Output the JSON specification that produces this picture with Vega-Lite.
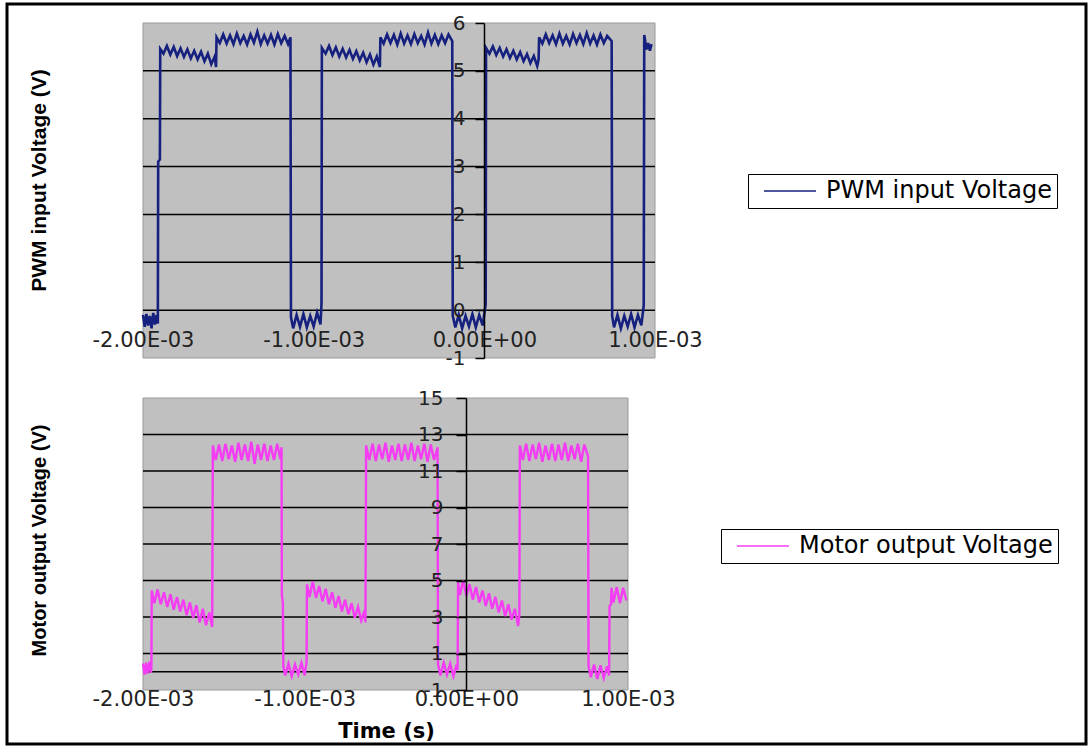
{
"$schema": "https://vega.github.io/schema/vega-lite/v6.json",
"width": 1088,
"height": 746,
"autosize": {"type": "fit", "contains": "padding"},
"padding": {"left": 7, "top": 4, "right": 2, "bottom": 2},
"background": "white",
"config": {"view": {"stroke": "black", "strokeWidth": 3}, "font": "DejaVu Sans"},
"datasets": {
"pwm": [
{"t":-0.00200,"v":-0.10},{"t":-0.00199,"v":-0.35},{"t":-0.00198,"v":-0.08},{"t":-0.00197,"v":-0.32},{"t":-0.00196,"v":-0.12},{"t":-0.00195,"v":-0.38},{"t":-0.00194,"v":-0.06},{"t":-0.00193,"v":-0.30},{"t":-0.00192,"v":-0.10},{"t":-0.001913,"v":-0.28},
{"t":-0.001911,"v":3.10},{"t":-0.001901,"v":3.15},{"t":-0.001899,"v":5.46},
{"t":-0.00188,"v":5.36},{"t":-0.00186,"v":5.52},{"t":-0.00184,"v":5.34},{"t":-0.00182,"v":5.50},{"t":-0.00180,"v":5.31},{"t":-0.00178,"v":5.47},{"t":-0.00176,"v":5.29},{"t":-0.00174,"v":5.45},{"t":-0.00172,"v":5.26},{"t":-0.00170,"v":5.42},{"t":-0.00168,"v":5.24},{"t":-0.00166,"v":5.40},{"t":-0.00164,"v":5.20},{"t":-0.00162,"v":5.36},{"t":-0.00160,"v":5.14},{"t":-0.00158,"v":5.30},{"t":-0.001572,"v":5.08},
{"t":-0.001569,"v":5.70},{"t":-0.00155,"v":5.58},{"t":-0.00153,"v":5.76},{"t":-0.00151,"v":5.57},{"t":-0.00149,"v":5.74},{"t":-0.00147,"v":5.56},{"t":-0.00145,"v":5.78},{"t":-0.00143,"v":5.58},{"t":-0.00141,"v":5.73},{"t":-0.00139,"v":5.55},{"t":-0.00137,"v":5.76},{"t":-0.00135,"v":5.59},{"t":-0.00133,"v":5.82},{"t":-0.00131,"v":5.56},{"t":-0.00129,"v":5.74},{"t":-0.00127,"v":5.57},{"t":-0.00125,"v":5.75},{"t":-0.00123,"v":5.55},{"t":-0.00121,"v":5.77},{"t":-0.00119,"v":5.58},{"t":-0.00117,"v":5.73},{"t":-0.00115,"v":5.56},{"t":-0.001136,"v":5.70},
{"t":-0.001133,"v":-0.15},{"t":-0.00112,"v":-0.38},{"t":-0.00110,"v":-0.10},{"t":-0.00108,"v":-0.35},{"t":-0.00106,"v":-0.08},{"t":-0.00104,"v":-0.36},{"t":-0.00102,"v":-0.12},{"t":-0.00100,"v":-0.34},{"t":-0.00098,"v":-0.05},{"t":-0.00096,"v":-0.30},{"t":-0.000954,"v":0.15},
{"t":-0.000952,"v":5.48},{"t":-0.00093,"v":5.36},{"t":-0.00091,"v":5.52},{"t":-0.00089,"v":5.33},{"t":-0.00087,"v":5.49},{"t":-0.00085,"v":5.30},{"t":-0.00083,"v":5.46},{"t":-0.00081,"v":5.28},{"t":-0.00079,"v":5.44},{"t":-0.00077,"v":5.25},{"t":-0.00075,"v":5.41},{"t":-0.00073,"v":5.22},{"t":-0.00071,"v":5.38},{"t":-0.00069,"v":5.18},{"t":-0.00067,"v":5.34},{"t":-0.00065,"v":5.13},{"t":-0.00063,"v":5.30},{"t":-0.000612,"v":5.08},
{"t":-0.000609,"v":5.70},{"t":-0.00059,"v":5.57},{"t":-0.00057,"v":5.76},{"t":-0.00055,"v":5.58},{"t":-0.00053,"v":5.75},{"t":-0.00051,"v":5.55},{"t":-0.00049,"v":5.78},{"t":-0.00047,"v":5.57},{"t":-0.00045,"v":5.74},{"t":-0.00043,"v":5.56},{"t":-0.00041,"v":5.77},{"t":-0.00039,"v":5.58},{"t":-0.00037,"v":5.73},{"t":-0.00035,"v":5.55},{"t":-0.00033,"v":5.80},{"t":-0.00031,"v":5.57},{"t":-0.00029,"v":5.75},{"t":-0.00027,"v":5.56},{"t":-0.00025,"v":5.74},{"t":-0.00023,"v":5.58},{"t":-0.00021,"v":5.76},{"t":-0.000188,"v":5.62},
{"t":-0.000185,"v":-0.12},{"t":-0.00017,"v":-0.36},{"t":-0.00015,"v":-0.10},{"t":-0.00013,"v":-0.38},{"t":-0.00011,"v":-0.12},{"t":-0.00009,"v":-0.34},{"t":-0.00007,"v":-0.08},{"t":-0.00005,"v":-0.36},{"t":-0.00003,"v":-0.10},{"t":-0.00001,"v":-0.32},{"t":0.000008,"v":0.12},
{"t":0.00001,"v":5.48},{"t":0.00003,"v":5.36},{"t":0.00005,"v":5.51},{"t":0.00007,"v":5.33},{"t":0.00009,"v":5.48},{"t":0.00011,"v":5.30},{"t":0.00013,"v":5.45},{"t":0.00015,"v":5.27},{"t":0.00017,"v":5.42},{"t":0.00019,"v":5.24},{"t":0.00021,"v":5.39},{"t":0.00023,"v":5.20},{"t":0.00025,"v":5.35},{"t":0.00027,"v":5.16},{"t":0.00029,"v":5.31},{"t":0.00031,"v":5.10},{"t":0.000318,"v":5.24},
{"t":0.000321,"v":5.70},{"t":0.00034,"v":5.57},{"t":0.00036,"v":5.76},{"t":0.00038,"v":5.58},{"t":0.00040,"v":5.74},{"t":0.00042,"v":5.56},{"t":0.00044,"v":5.78},{"t":0.00046,"v":5.57},{"t":0.00048,"v":5.73},{"t":0.00050,"v":5.55},{"t":0.00052,"v":5.77},{"t":0.00054,"v":5.58},{"t":0.00056,"v":5.75},{"t":0.00058,"v":5.56},{"t":0.00060,"v":5.79},{"t":0.00062,"v":5.57},{"t":0.00064,"v":5.74},{"t":0.00066,"v":5.55},{"t":0.00068,"v":5.76},{"t":0.00070,"v":5.58},{"t":0.00072,"v":5.73},{"t":0.000746,"v":5.62},
{"t":0.000749,"v":-0.12},{"t":0.00076,"v":-0.36},{"t":0.00078,"v":-0.10},{"t":0.00080,"v":-0.38},{"t":0.00082,"v":-0.12},{"t":0.00084,"v":-0.34},{"t":0.00086,"v":-0.08},{"t":0.00088,"v":-0.36},{"t":0.00090,"v":-0.10},{"t":0.00092,"v":-0.32},{"t":0.000934,"v":0.10},
{"t":0.000937,"v":5.75},{"t":0.00095,"v":5.45},{"t":0.00096,"v":5.58},{"t":0.00097,"v":5.42},{"t":0.00098,"v":5.56}
],
"motor": [
{"t":-0.00200,"v":0.45},{"t":-0.00199,"v":-0.15},{"t":-0.00198,"v":0.50},{"t":-0.00197,"v":-0.10},{"t":-0.00196,"v":0.55},{"t":-0.00195,"v":-0.05},{"t":-0.001948,"v":0.40},
{"t":-0.001946,"v":4.45},{"t":-0.00193,"v":3.75},{"t":-0.00191,"v":4.50},{"t":-0.00189,"v":3.70},{"t":-0.00187,"v":4.35},{"t":-0.00185,"v":3.55},{"t":-0.00183,"v":4.25},{"t":-0.00181,"v":3.40},{"t":-0.00179,"v":4.10},{"t":-0.00177,"v":3.30},{"t":-0.00175,"v":3.95},{"t":-0.00173,"v":3.10},{"t":-0.00171,"v":3.80},{"t":-0.00169,"v":2.95},{"t":-0.00167,"v":3.65},{"t":-0.00165,"v":2.70},{"t":-0.00163,"v":3.45},{"t":-0.00161,"v":2.55},{"t":-0.00159,"v":3.25},{"t":-0.001572,"v":2.45},
{"t":-0.001568,"v":12.40},{"t":-0.00155,"v":11.60},{"t":-0.00153,"v":12.45},{"t":-0.00151,"v":11.55},{"t":-0.00149,"v":12.50},{"t":-0.00147,"v":11.65},{"t":-0.00145,"v":12.40},{"t":-0.00143,"v":11.50},{"t":-0.00141,"v":12.55},{"t":-0.00139,"v":11.60},{"t":-0.00137,"v":12.45},{"t":-0.00135,"v":11.55},{"t":-0.00133,"v":12.60},{"t":-0.00131,"v":11.40},{"t":-0.00129,"v":12.45},{"t":-0.00127,"v":11.60},{"t":-0.00125,"v":12.50},{"t":-0.00123,"v":11.55},{"t":-0.00121,"v":12.40},{"t":-0.00119,"v":11.60},{"t":-0.00117,"v":12.50},{"t":-0.00115,"v":11.65},{"t":-0.001143,"v":12.30},
{"t":-0.001141,"v":4.20},{"t":-0.001135,"v":3.80},{"t":-0.001132,"v":0.30},{"t":-0.00112,"v":-0.20},{"t":-0.00110,"v":0.45},{"t":-0.00108,"v":-0.25},{"t":-0.00106,"v":0.40},{"t":-0.00104,"v":-0.15},{"t":-0.00102,"v":0.50},{"t":-0.00100,"v":-0.20},{"t":-0.000988,"v":0.55},
{"t":-0.000986,"v":4.80},{"t":-0.00097,"v":4.10},{"t":-0.00095,"v":4.95},{"t":-0.00093,"v":4.05},{"t":-0.00091,"v":4.70},{"t":-0.00089,"v":3.85},{"t":-0.00087,"v":4.55},{"t":-0.00085,"v":3.70},{"t":-0.00083,"v":4.35},{"t":-0.00081,"v":3.50},{"t":-0.00079,"v":4.15},{"t":-0.00077,"v":3.30},{"t":-0.00075,"v":3.95},{"t":-0.00073,"v":3.15},{"t":-0.00071,"v":3.75},{"t":-0.00069,"v":2.95},{"t":-0.00067,"v":3.55},{"t":-0.00065,"v":2.80},{"t":-0.00063,"v":3.35},{"t":-0.000624,"v":2.70},
{"t":-0.00062,"v":12.40},{"t":-0.00060,"v":11.60},{"t":-0.00058,"v":12.50},{"t":-0.00056,"v":11.55},{"t":-0.00054,"v":12.45},{"t":-0.00052,"v":11.65},{"t":-0.00050,"v":12.55},{"t":-0.00048,"v":11.50},{"t":-0.00046,"v":12.40},{"t":-0.00044,"v":11.60},{"t":-0.00042,"v":12.50},{"t":-0.00040,"v":11.55},{"t":-0.00038,"v":12.45},{"t":-0.00036,"v":11.60},{"t":-0.00034,"v":12.55},{"t":-0.00032,"v":11.55},{"t":-0.00030,"v":12.40},{"t":-0.00028,"v":11.65},{"t":-0.00026,"v":12.50},{"t":-0.00024,"v":11.50},{"t":-0.00022,"v":12.45},{"t":-0.00020,"v":11.60},{"t":-0.000178,"v":12.30},
{"t":-0.000175,"v":0.40},{"t":-0.00016,"v":-0.20},{"t":-0.00014,"v":0.50},{"t":-0.00012,"v":-0.15},{"t":-0.00010,"v":0.45},{"t":-0.00008,"v":-0.25},{"t":-0.00006,"v":0.40},{"t":-0.000054,"v":0.10},
{"t":-0.000051,"v":4.90},{"t":-0.00004,"v":4.20},{"t":-0.00002,"v":5.00},{"t":0.00000,"v":4.15},{"t":0.00002,"v":4.80},{"t":0.00004,"v":3.95},{"t":0.00006,"v":4.65},{"t":0.00008,"v":3.80},{"t":0.00010,"v":4.45},{"t":0.00012,"v":3.60},{"t":0.00014,"v":4.30},{"t":0.00016,"v":3.45},{"t":0.00018,"v":4.10},{"t":0.00020,"v":3.25},{"t":0.00022,"v":3.90},{"t":0.00024,"v":3.05},{"t":0.00026,"v":3.70},{"t":0.00028,"v":2.85},{"t":0.00030,"v":3.45},{"t":0.00032,"v":2.50},{"t":0.000328,"v":3.10},
{"t":0.000331,"v":12.40},{"t":0.00035,"v":11.60},{"t":0.00037,"v":12.50},{"t":0.00039,"v":11.55},{"t":0.00041,"v":12.45},{"t":0.00043,"v":11.65},{"t":0.00045,"v":12.55},{"t":0.00047,"v":11.50},{"t":0.00049,"v":12.40},{"t":0.00051,"v":11.60},{"t":0.00053,"v":12.50},{"t":0.00055,"v":11.55},{"t":0.00057,"v":12.45},{"t":0.00059,"v":11.60},{"t":0.00061,"v":12.55},{"t":0.00063,"v":11.55},{"t":0.00065,"v":12.40},{"t":0.00067,"v":11.65},{"t":0.00069,"v":12.50},{"t":0.00071,"v":11.50},{"t":0.00073,"v":12.45},{"t":0.000753,"v":11.80},
{"t":0.000756,"v":0.30},{"t":0.00077,"v":-0.30},{"t":0.00079,"v":0.40},{"t":0.00081,"v":-0.40},{"t":0.00083,"v":0.35},{"t":0.00085,"v":-0.35},{"t":0.00087,"v":0.30},{"t":0.000883,"v":-0.20},
{"t":0.000886,"v":3.60},{"t":0.000895,"v":3.70},{"t":0.000898,"v":4.60},{"t":0.00091,"v":3.80},{"t":0.00093,"v":4.65},{"t":0.00095,"v":3.75},{"t":0.00097,"v":4.60},{"t":0.00099,"v":3.90}
]
},
"layer": [
{
"layer": [
{
"data": {"values": [{"x0": -0.002, "x1": 0.001, "y0": -1, "y1": 6}]},
"mark": {"type": "rect", "fill": "#c0c0c0", "stroke": "#999999", "strokeWidth": 1},
"encoding": {
"x": {"field": "x0", "type": "quantitative",
"scale": {"domain": [-0.002, 0.001], "range": [136, 648], "nice": false, "zero": false},
"axis": {"orient": "bottom", "offset": -434, "domain": false, "ticks": false, "tickSize": 0, "grid": false,
"values": [-0.002, -0.001, 0, 0.001],
"labelExpr": "(datum.value < 0 ? '-' : '') + format(abs(datum.value) * 1000, '.2f') + (datum.value == 0 ? 'E+00' : 'E-03')",
"labelFont": "DejaVu Sans", "labelFontSize": 21, "labelColor": "#222222", "labelPadding": 19,
"labelFlush": false, "labelOverlap": false, "title": null, "zindex": 1}},
"x2": {"field": "x1"},
"y": {"field": "y0", "type": "quantitative",
"scale": {"domain": [-1, 6], "range": [354, 19], "nice": false, "zero": false},
"axis": {"orient": "left", "offset": -477, "grid": false,
"values": [-1, 0, 1, 2, 3, 4, 5, 6],
"labelExpr": "(datum.value < 0 ? '-' : '') + abs(datum.value)",
"domainColor": "black", "domainWidth": 1.5, "tickColor": "black", "tickWidth": 1.5, "tickSize": 9,
"labelFont": "DejaVu Sans", "labelFontSize": 20, "labelColor": "#222222", "labelPadding": 10,
"labelFlush": false, "labelOverlap": false,
"title": "PWM input Voltage (V)", "titleFont": "Liberation Sans", "titleFontWeight": "bold",
"titleFontSize": 21, "titleColor": "black", "titleAngle": -90, "titleX": -445, "titleY": 176,
"titleAlign": "center", "titleBaseline": "middle", "zindex": 1}},
"y2": {"field": "y1"}
}
},
{
"data": {"values": [{"g": 0}, {"g": 1}, {"g": 2}, {"g": 3}, {"g": 4}, {"g": 5}]},
"mark": {"type": "rule", "color": "black", "strokeWidth": 1.5},
"encoding": {
"y": {"field": "g", "type": "quantitative"},
"x": {"datum": -0.002, "type": "quantitative"},
"x2": {"datum": 0.001}
}
},
{
"data": {"name": "pwm"},
"mark": {"type": "line", "strokeWidth": 2.6},
"encoding": {
"x": {"field": "t", "type": "quantitative"},
"y": {"field": "v", "type": "quantitative"},
"color": {"datum": "PWM input Voltage", "type": "nominal",
"scale": {"domain": ["PWM input Voltage"], "range": ["#15207f"]},
"legend": {"orient": "none", "legendX": 741, "legendY": 170, "title": null,
"symbolType": "M-0.1,0H5.1", "symbolSize": 400, "symbolStrokeWidth": 1.5,
"symbolStrokeColor": "#15207f", "symbolFillColor": "transparent",
"labelFont": "DejaVu Sans", "labelFontSize": 24, "labelColor": "black", "labelOffset": 49, "labelLimit": 500,
"padding": 5, "strokeColor": "black", "fillColor": "white", "cornerRadius": 0}}
}
}
]
},
{
"layer": [
{
"data": {"values": [{"x0": -0.002, "x1": 0.001, "y0": -1, "y1": 15}]},
"mark": {"type": "rect", "fill": "#c0c0c0", "stroke": "#999999", "strokeWidth": 1},
"encoding": {
"x": {"field": "x0", "type": "quantitative",
"scale": {"domain": [-0.002, 0.001], "range": [136, 621], "nice": false, "zero": false},
"axis": {"orient": "bottom", "offset": -72, "domain": false, "ticks": false, "tickSize": 0, "grid": false,
"values": [-0.002, -0.001, 0, 0.001],
"labelExpr": "(datum.value < 0 ? '-' : '') + format(abs(datum.value) * 1000, '.2f') + (datum.value == 0 ? 'E+00' : 'E-03')",
"labelFont": "DejaVu Sans", "labelFontSize": 21, "labelColor": "#222222", "labelPadding": 16,
"labelFlush": false, "labelOverlap": false,
"title": "Time (s)", "titleFont": "DejaVu Sans", "titleFontWeight": "bold", "titleFontSize": 21,
"titleColor": "black", "titleX": 379, "titleY": 59, "titleAlign": "center", "titleBaseline": "middle",
"titleAngle": 0, "zindex": 1}},
"x2": {"field": "x1"},
"y": {"field": "y0", "type": "quantitative",
"scale": {"domain": [-1, 15], "range": [686, 394], "nice": false, "zero": false},
"axis": {"orient": "left", "offset": -459, "grid": false,
"values": [-1, 1, 3, 5, 7, 9, 11, 13, 15],
"labelExpr": "(datum.value < 0 ? '-' : '') + abs(datum.value)",
"domainColor": "black", "domainWidth": 1.5, "tickColor": "black", "tickWidth": 1.5, "tickSize": 10,
"labelFont": "DejaVu Sans", "labelFontSize": 20, "labelColor": "#222222", "labelPadding": 13,
"labelFlush": false, "labelOverlap": false,
"title": "Motor output Voltage (V)", "titleFont": "Liberation Sans", "titleFontWeight": "bold",
"titleFontSize": 20, "titleColor": "black", "titleAngle": -90, "titleX": -427, "titleY": 536,
"titleAlign": "center", "titleBaseline": "middle", "zindex": 1}},
"y2": {"field": "y1"}
}
},
{
"data": {"values": [{"g": 0}, {"g": 1}, {"g": 3}, {"g": 5}, {"g": 7}, {"g": 9}, {"g": 11}, {"g": 13}]},
"mark": {"type": "rule", "color": "black", "strokeWidth": 1.5},
"encoding": {
"y": {"field": "g", "type": "quantitative"},
"x": {"datum": -0.002, "type": "quantitative"},
"x2": {"datum": 0.001}
}
},
{
"data": {"name": "motor"},
"mark": {"type": "line", "strokeWidth": 2.4},
"encoding": {
"x": {"field": "t", "type": "quantitative"},
"y": {"field": "v", "type": "quantitative"},
"color": {"datum": "Motor output Voltage", "type": "nominal",
"scale": {"domain": ["Motor output Voltage"], "range": ["#f53cf5"]},
"legend": {"orient": "none", "legendX": 714, "legendY": 525, "title": null,
"symbolType": "M-0.1,0H5.1", "symbolSize": 400, "symbolStrokeWidth": 1.5,
"symbolStrokeColor": "#b03cb0", "symbolFillColor": "transparent",
"labelFont": "DejaVu Sans", "labelFontSize": 24, "labelColor": "black", "labelOffset": 49, "labelLimit": 500,
"padding": 5, "strokeColor": "black", "fillColor": "white", "cornerRadius": 0}}
}
}
]
}
],
"resolve": {"scale": {"x": "independent", "y": "independent", "color": "independent"}}
}
